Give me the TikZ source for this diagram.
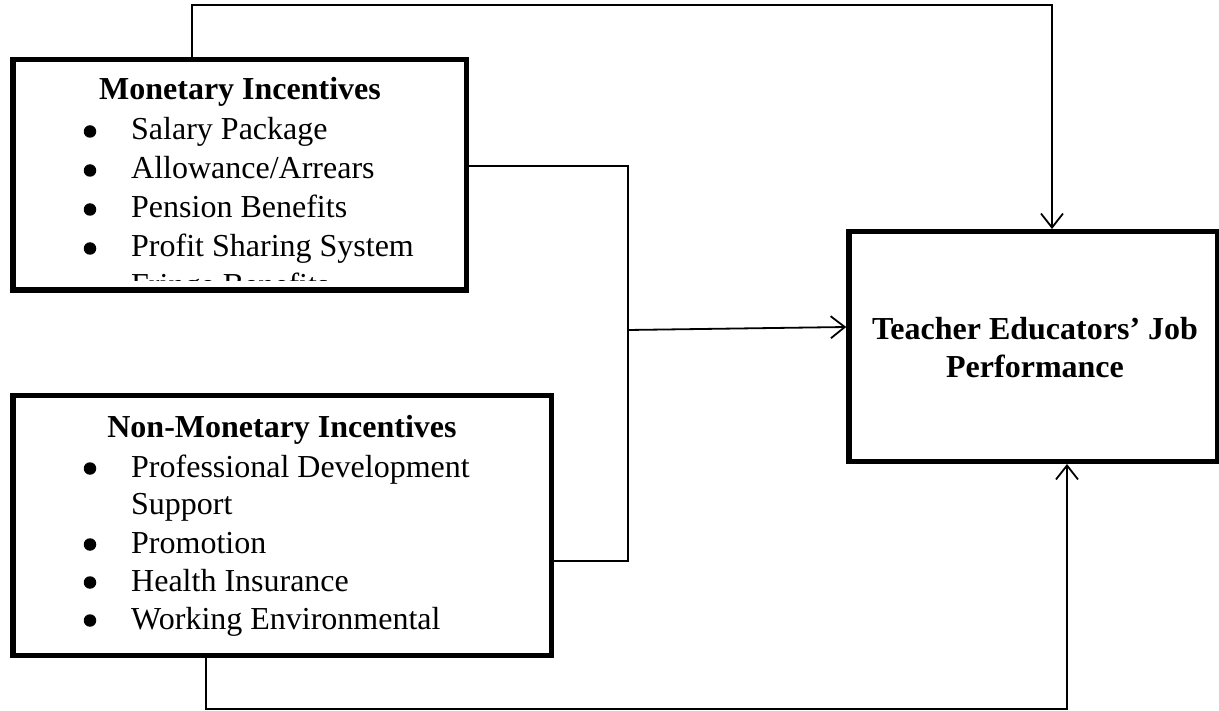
\documentclass[tikz,border=0pt]{standalone}
\usepackage{fontspec}
\setmainfont{Liberation Serif}
\usetikzlibrary{arrows.meta,positioning}
\tikzset{
  bigbox/.style={rectangle, draw=black, line width=5.5pt, fill=none, inner sep=0pt},
  head/.style={font=\fontsize{32}{38}\selectfont\bfseries, inner sep=0pt},
  itemtxt/.style={font=\fontsize{32}{39}\selectfont, inner sep=0pt, anchor=base west},
  bul/.style={circle, fill=black, inner sep=0pt, minimum size=12.5pt},
  link/.style={draw=black, line width=1.8pt},
  flow/.style={link, -{Straight Barb[length=14pt,width=22pt]}},
}
\begin{document}
\begin{tikzpicture}[x=1pt,y=-1pt]
\useasboundingbox (0,0) rectangle (1219,711);

\node[bigbox, minimum width=453.5pt, minimum height=230.5pt] (mon) at (239.5,175)   {};
\node[bigbox, minimum width=538.5pt, minimum height=259.5pt] (non) at (282,525.5)   {};
\node[bigbox, minimum width=369pt,   minimum height=229.5pt] (tea) at (1033.5,346.5) {};

% monetary box, last line cut off by the frame
\node[head, anchor=base] (montitle) at (240,100) {Monetary Incentives};
\begin{scope}
  \clip (16,63) rectangle (464,281);
  \foreach \t [count=\i from 0] in {Salary Package, Allowance/Arrears, Pension Benefits, Profit Sharing System, Fringe Benefits} {
    \node[bul]     (mondot-\i) at (90,{131.5+39*\i}) {};
    \node[itemtxt] (mon-\i)    at (131,{140+39*\i})  {\t};
  }
\end{scope}

\node[head, anchor=base] (nontitle) at (282,438) {Non-Monetary Incentives};
\foreach \t/\y in {Professional Development/477, Promotion/553, Health Insurance/591, Working Environmental/629} {
  \node[bul]     (nondot-\y) at (90,\y-8.5) {};
  \node[itemtxt] (non-\y)    at (131,\y)    {\t};
}
\node[itemtxt] (non-514) at (131,514) {Support};

\node[head, align=center] (teatxt) at (1035,348) {Teacher Educators' Job\\Performance};

\coordinate (topl) at (192,5);
\coordinate (topr) at (1052,5);
\coordinate (jtop) at (628,166);
\coordinate (jmid) at (628,330);
\coordinate (jbot) at (628,561);
\coordinate (botl) at (206,709);
\coordinate (botr) at (1067,709);

\draw[flow] (mon.north -| topl) -- (topl) -- (topr) -- (topr |- tea.north);
\draw[link] (mon.east |- jtop) -- (jtop) -- (jbot) -- (non.east |- jbot);
\draw[flow] (jmid) -- (tea.west |- 0,327);
\draw[flow] (non.south -| botl) -- (botl) -- (botr) -- (botr |- tea.south);
\end{tikzpicture}
\end{document}
